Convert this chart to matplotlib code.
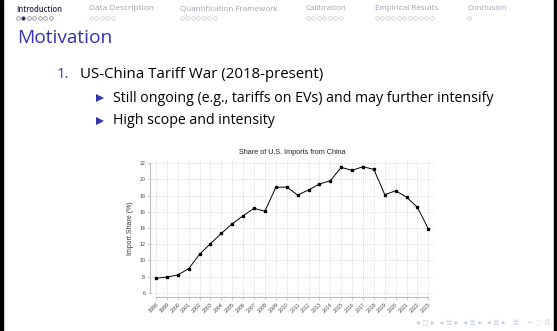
import matplotlib
matplotlib.use("Agg")
import matplotlib.pyplot as plt

# data
years = list(range(1998, 2024))
share = [7.78, 7.94, 8.19, 8.97, 10.75, 12.06, 13.34, 14.53, 15.52, 16.43,
         16.08, 19.03, 19.07, 18.08, 18.70, 19.44, 19.85, 21.50, 21.13, 21.58,
         21.25, 18.12, 18.60, 17.83, 16.55, 13.90]
y_ticks = [6, 8, 10, 12, 14, 16, 18, 20, 22]

sections = ["Introduction", "Data Description", "Quantification Framework",
            "Calibration", "Empirical Results", "Conclusion"]
section_x = [16, 89, 180, 306, 375, 467]
section_w = [46, 64, 98, 41, 64, 40]
section_dots = [7, 5, 7, 7, 11, 1]

W, H = 557, 331
fig = plt.figure(figsize=(W / 100, H / 100), dpi=100)
fig.patch.set_facecolor("white")
renderer = fig.canvas.get_renderer()

# overlay in pixel coordinates for the slide decorations
deco = fig.add_axes([0, 0, 1, 1])
deco.set_xlim(0, W)
deco.set_ylim(H, 0)
deco.axis("off")

struct = "#3333b3"
slide_font = ["Open Sans", "DejaVu Sans"]


def fit_text(x, y, s, width, size=9, **kw):
    # scale the font so the text spans about `width` pixels, like the slide
    t = deco.text(x, y, s, fontsize=size, family=slide_font, va="center", **kw)
    w = t.get_window_extent(renderer).width
    t.set_fontsize(size * width / w)
    return t


# black side bars
deco.axvspan(0, 3, color="black")
deco.axvspan(553.5, W, color="black")

# header navigation
for i, (name, x, w, n) in enumerate(zip(sections, section_x, section_w, section_dots)):
    active = i == 0
    fit_text(x, 9, name, w, size=5.3,
             color="#2a2a4a" if active else "#a0a0b4",
             fontweight="semibold" if active else "normal")
    for k in range(n):
        filled = active and k == 1
        deco.plot(x + 1.8 + k * 5.5, 17.5, "o", ms=2.6, mew=0.4,
                  mfc=("#2a2a4a" if filled else "white"),
                  mec=("#55556a" if active else "#b8b8c8"))

# title and bullet text
fit_text(17, 38, "Motivation", 95, size=12, color=struct)
t = fit_text(80, 74, "US-China Tariff War (2018-present)", 245, size=9.5, color="black")
deco.text(57, 74, "1.", fontsize=t.get_fontsize(), family=slide_font,
          color=struct, va="center")

bullets = ["Still ongoing (e.g., tariffs on EVs) and may further intensify",
           "High scope and intensity"]
bullet_y = [98, 121]
t = fit_text(113, bullet_y[0], bullets[0], 382, size=8.8, color="black")
deco.text(113, bullet_y[1], bullets[1], fontsize=t.get_fontsize(),
          family=slide_font, color="black", va="center")
for yy in bullet_y:
    deco.plot(100, yy, marker=">", ms=6, color=struct, mew=0)

# bottom-right navigation symbols
deco.text(550, 322, "◂ ◻ ▸  ◂ ≣ ▸  ◂ ≣ ▸  ◂ ≣ ▸   ≣   ∽ ◌ ↺",
          fontsize=5.5, color="#c6cbe2", ha="right", va="center",
          family=["DejaVu Sans"])

# the chart
ax = fig.add_axes([150 / W, 1 - 297 / H, 284 / W, 137 / H])
ax.set_facecolor("white")
ax.set_xlim(1997.45, 2023.52)
ax.set_ylim(5.47, 22.41)

ax.grid(True, color="#d0d0d0", linestyle=(0, (1.5, 1.5)), linewidth=0.5)
ax.set_axisbelow(True)
ax.set_xticks(years)
ax.set_yticks(y_ticks)

ax.plot(years, share, color="black", linewidth=0.7, marker="s",
        markersize=1.7, zorder=3)

for s in ["top", "right"]:
    ax.spines[s].set_visible(False)
ax.spines["left"].set_color("#bcbcbc")
ax.spines["bottom"].set_color("#bcbcbc")
ax.spines["left"].set_bounds(6, 22)
ax.spines["bottom"].set_bounds(1998, 2023)

chart_font = ["Liberation Sans", "DejaVu Sans"]
ax.tick_params(axis="both", colors="#bcbcbc", labelcolor="#444444",
               length=2, width=0.5, pad=1.5, labelsize=3.8)
ax.set_xticklabels([str(y) for y in years], rotation=45, ha="right",
                   rotation_mode="anchor", family=chart_font)
ax.set_yticklabels([str(v) for v in y_ticks], family=chart_font)
ax.set_ylabel("Import Share (%)", fontsize=5, family=chart_font,
              color="#333333", labelpad=4)
ax.set_title("Share of U.S. Imports from China", fontsize=5.2,
             family=chart_font, color="#222222", pad=4)

fig.savefig("out.png", dpi=100, facecolor="white")
